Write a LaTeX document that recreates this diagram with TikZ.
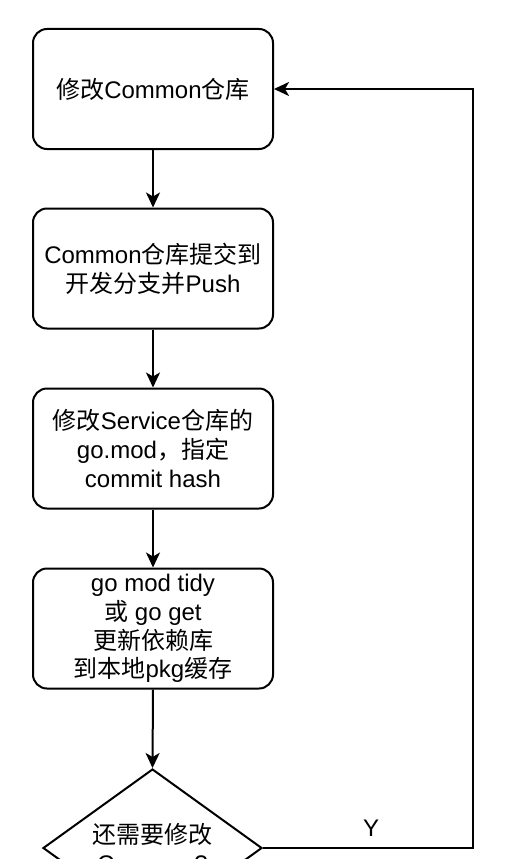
\documentclass[tikz,border=0pt]{standalone}
\usepackage{fontspec}
\setmainfont{Liberation Sans}
\newfontfamily\cjk{Noto Sans CJK SC}
\newcommand{\zh}[1]{{\cjk #1}}
\usetikzlibrary{arrows.meta,shapes.geometric}
\begin{document}
\begin{tikzpicture}[x=1pt,y=-1pt,
  stepbox/.style={draw,line width=2pt,rounded corners=14pt,minimum width=240pt,minimum height=120pt,inner sep=0pt,align=center,font=\fontsize{24pt}{28.8pt}\selectfont},
  decision/.style={draw,line width=2pt,diamond,minimum width=219pt,minimum height=158pt,inner sep=0pt},
  lbl/.style={align=center,font=\fontsize{24pt}{28.8pt}\selectfont,inner sep=0pt},
  flow/.style={draw,line width=2pt,-{Stealth[length=15pt,width=14pt,inset=4pt]}}]
\useasboundingbox (0,0) rectangle (515,859);
\node[stepbox] (b1) at (153,89) {\zh{修改}Common\zh{仓库}};
\node[stepbox] (b2) at (153,268.5) {Common\zh{仓库提交到}\\\zh{开发分支并}Push};
\node[stepbox] (b3) at (153,448.5) {\zh{修改}Service\zh{仓库的}\\go.mod\zh{，指定}\\commit hash};
\node[stepbox] (b4) at (153,628.5) {go mod tidy\\\zh{或} go get\\\zh{更新依赖库}\\\zh{到本地}pkg\zh{缓存}};
\node[decision] (d1) at (152.5,848) {};
\node[lbl] (d1t) at (152.5,848) {\zh{还需要修改}\\Common?};
\coordinate (c1) at (473,848);
\coordinate (c2) at (473,89);
\draw[flow] (b1.south) -- (b2.north);
\draw[flow] (b2.south) -- (b3.north);
\draw[flow] (b3.south) -- (b4.north);
\draw[flow] (b4.south) -- (d1.north);
\draw[flow] (d1.east) -- (c1) -- (c2) -- (b1.east);
\node[lbl] (y) at (371,828) {Y};
\end{tikzpicture}
\end{document}
